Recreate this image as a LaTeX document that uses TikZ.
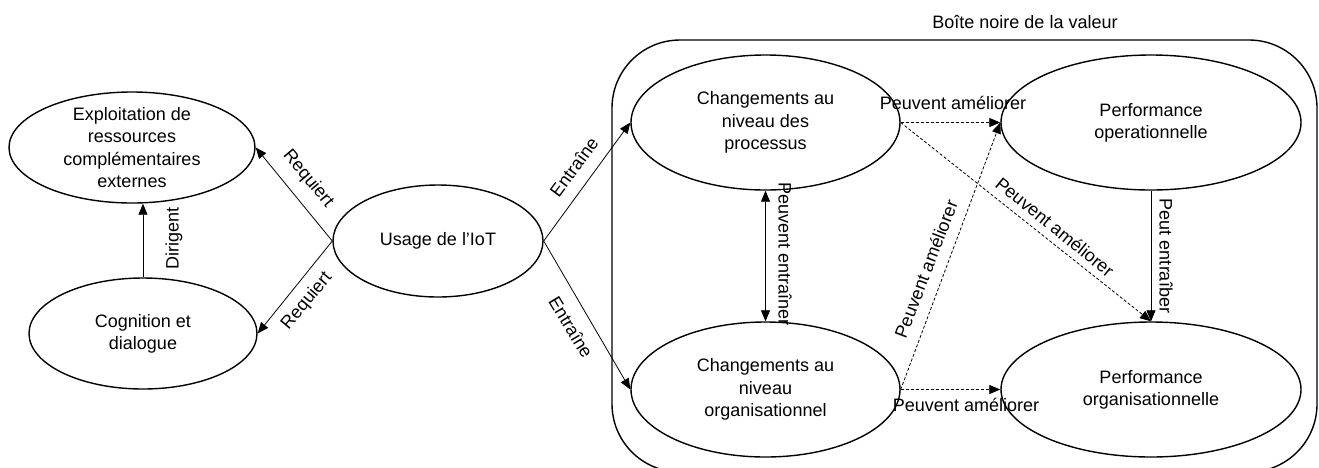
\documentclass[tikz,border=0pt]{standalone}
\usepackage{fontspec}
\setmainfont{Liberation Sans}
\usetikzlibrary{shapes.geometric,arrows.meta}

\begin{document}
\begin{tikzpicture}[x=1pt,y=-1pt,
  every node/.style={font=\fontsize{18}{22.3}\selectfont},
  oval/.style={draw, ellipse, line width=1.4pt, inner sep=0pt},
  inner/.style={inner sep=0pt, align=center},
  conn/.style={line width=0.8pt, -{Triangle[length=11pt,width=9pt]}},
  dconn/.style={conn, dash pattern=on 3pt off 2pt},
  lbl/.style={inner sep=0pt}]
\useasboundingbox (0,0) rectangle (1319,467);

% container (its bottom edge lies just below the picture)
\begin{scope}
\clip (0,0) rectangle (1319,467);
\node[draw, line width=1.4pt, rounded corners=68pt, minimum width=705pt,
      minimum height=432pt, inner sep=0pt] (box) at (964.5,256) {};
\end{scope}
\node[lbl] (boxtitle) at (1025,22) {Boîte noire de la valeur};

% ellipses
\node[oval, minimum width=246pt, minimum height=111pt,
      label={[inner]center:Exploitation de\\ressources\\complémentaires\\externes}] (expl) at (132,147.5) {};
\node[oval, minimum width=228pt, minimum height=111pt,
      label={[inner]center:Cognition et\\dialogue}] (cog) at (143,333.5) {};
\node[oval, minimum width=210pt, minimum height=112pt,
      label={[inner]center:Usage de l’IoT}] (usage) at (438,241) {};
\node[oval, minimum width=269pt, minimum height=135pt,
      label={[inner]center:Changements au\\niveau des\\processus}] (proc) at (765.5,122.5) {};
\node[oval, minimum width=269pt, minimum height=135pt,
      label={[inner]center:Changements au\\niveau\\organisationnel}] (org) at (765.5,389.5) {};
\node[oval, minimum width=300pt, minimum height=135pt,
      label={[inner]center:Performance\\operationnelle}] (perfop) at (1151,122.5) {};
\node[oval, minimum width=300pt, minimum height=135pt,
      label={[inner]center:Performance\\organisationnelle}] (perforg) at (1151,389.5) {};

% connectors
\draw[conn] (cog.north) -- (cog.north |- expl.south);
\draw[conn] (usage.west) -- (expl.east);
\draw[conn] (usage.west) -- (cog.east);
\draw[conn] (usage.east) -- (proc.west);
\draw[conn] (usage.east) -- (org.west);
\draw[conn, {Triangle[length=11pt,width=9pt]}-{Triangle[length=11pt,width=9pt]}] (proc.south) -- (org.north);
\draw[conn] (perfop.south) -- (perforg.north);
\draw[dconn] (proc.east) -- (perfop.west);
\draw[dconn] (proc.east) -- (perforg.north);
\draw[dconn] (org.east) -- (perfop.west);
\draw[dconn] (org.east) -- (perforg.west);

% labels
\node[lbl, rotate=90] (ldir) at (174,238) {Dirigent};
\node[lbl, rotate=-50] (lreq1) at (308,179) {Requiert};
\node[lbl, rotate=50] (lreq2) at (307,301) {Requiert};
\node[lbl, rotate=53.5] (lent1) at (574,167) {Entraîne};
\node[lbl, rotate=-59] (lent2) at (571,327) {Entraîne};
\node[lbl, rotate=-90] (lpe) at (785,254) {Peuvent entraîner};
\node[lbl, rotate=-90] (lpt) at (1166,256) {Peut entraîber};
\node[lbl] (lam1) at (953,103) {Peuvent améliorer};
\node[lbl] (lam2) at (966,405) {Peuvent améliorer};
\node[lbl, rotate=-39] (lam3) at (1055,227) {Peuvent améliorer};
\node[lbl, rotate=69] (lam4) at (926,269) {Peuvent améliorer};
\end{tikzpicture}
\end{document}
